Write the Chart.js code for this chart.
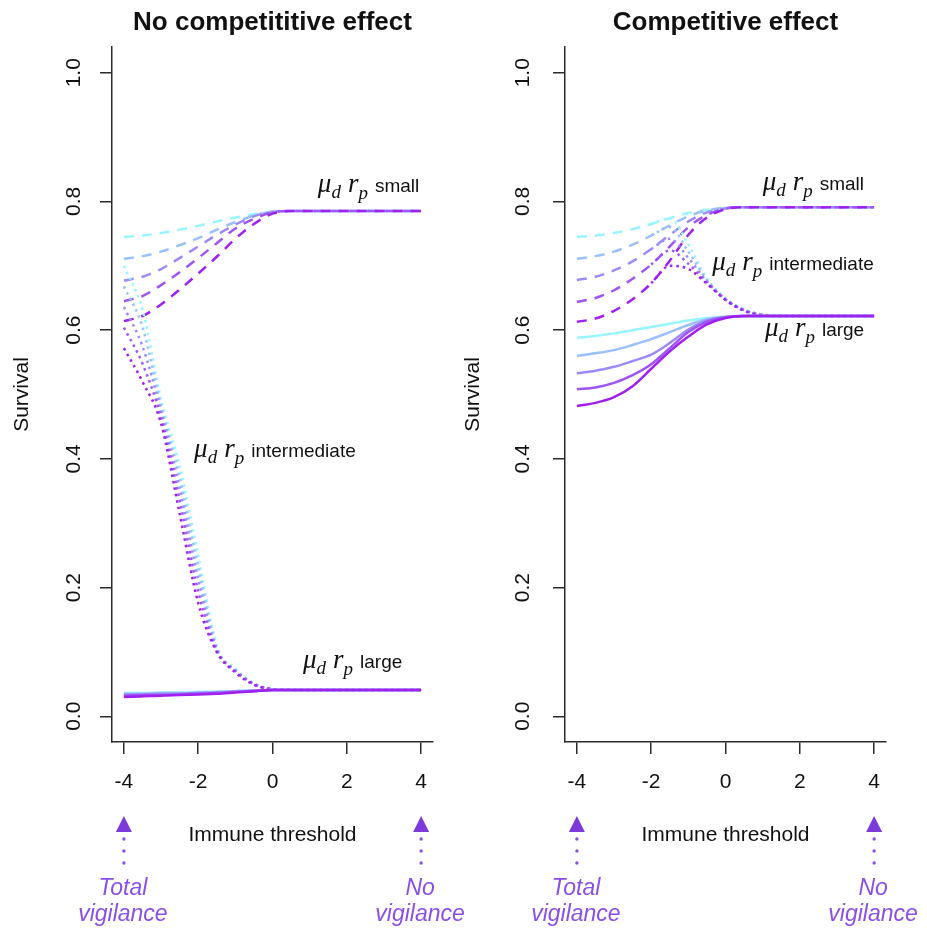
<!DOCTYPE html>
<html>
<head>
<meta charset="utf-8">
<script src="https://cdn.jsdelivr.net/npm/chart.js@4.4.0/dist/chart.umd.min.js"></script>
<style>
  body { margin: 0; background: #fff; }
  #wrap { position: relative; width: 927px; height: 930px; overflow: hidden; }
  canvas { position: absolute; top: 0; }
  #leftPanel { left: 0; }
  #rightPanel { left: 447px; }
</style>
</head>
<body>
<div id="wrap">
  <canvas id="leftPanel" width="480" height="930"></canvas>
  <canvas id="rightPanel" width="480" height="930"></canvas>
</div>
<script>
// immune threshold grid
const thresholds = [-4, -3.5, -3, -2.5, -2, -1.5, -1, -0.5, 0, 0.5, 1, 1.5, 2, 2.5, 3, 3.5, 4];
const xTicks = [-4, -2, 0, 2, 4];
const yTicks = [0, 0.2, 0.4, 0.6, 0.8, 1.0];
// cyan -> purple
const shades = ['#98F5FF', '#9AC0FB', '#9C8AF7', '#9E55F4', '#A020F0'];

// no competitive effect
const noCompSmall = [
  [0.745, 0.747, 0.751, 0.756, 0.762, 0.769, 0.775, 0.780, 0.784, 0.785, 0.785, 0.785, 0.785, 0.785, 0.785, 0.785, 0.785],
  [0.711, 0.715, 0.722, 0.732, 0.743, 0.756, 0.768, 0.778, 0.784, 0.785, 0.785, 0.785, 0.785, 0.785, 0.785, 0.785, 0.785],
  [0.677, 0.683, 0.695, 0.712, 0.730, 0.748, 0.764, 0.777, 0.784, 0.785, 0.785, 0.785, 0.785, 0.785, 0.785, 0.785, 0.785],
  [0.645, 0.653, 0.670, 0.690, 0.712, 0.735, 0.758, 0.773, 0.783, 0.785, 0.785, 0.785, 0.785, 0.785, 0.785, 0.785, 0.785],
  [0.614, 0.622, 0.640, 0.663, 0.688, 0.714, 0.742, 0.765, 0.781, 0.785, 0.785, 0.785, 0.785, 0.785, 0.785, 0.785, 0.785]
];
const noCompMid = [
  [0.700, 0.632, 0.492, 0.389, 0.250, 0.110, 0.074, 0.051, 0.042, 0.041, 0.041, 0.041, 0.041, 0.041, 0.041, 0.041, 0.041],
  [0.668, 0.605, 0.482, 0.372, 0.232, 0.106, 0.072, 0.051, 0.042, 0.041, 0.041, 0.041, 0.041, 0.041, 0.041, 0.041, 0.041],
  [0.636, 0.575, 0.474, 0.355, 0.213, 0.104, 0.071, 0.050, 0.042, 0.041, 0.041, 0.041, 0.041, 0.041, 0.041, 0.041, 0.041],
  [0.604, 0.548, 0.464, 0.336, 0.194, 0.102, 0.070, 0.050, 0.042, 0.041, 0.041, 0.041, 0.041, 0.041, 0.041, 0.041, 0.041],
  [0.572, 0.520, 0.455, 0.315, 0.176, 0.100, 0.068, 0.049, 0.042, 0.041, 0.041, 0.041, 0.041, 0.041, 0.041, 0.041, 0.041]
];
const noCompLarge = [
  [0.036, 0.036, 0.037, 0.037, 0.038, 0.038, 0.039, 0.040, 0.041, 0.041, 0.041, 0.041, 0.041, 0.041, 0.041, 0.041, 0.041],
  [0.035, 0.035, 0.036, 0.036, 0.037, 0.038, 0.039, 0.040, 0.041, 0.041, 0.041, 0.041, 0.041, 0.041, 0.041, 0.041, 0.041],
  [0.034, 0.034, 0.035, 0.035, 0.036, 0.037, 0.038, 0.040, 0.041, 0.041, 0.041, 0.041, 0.041, 0.041, 0.041, 0.041, 0.041],
  [0.032, 0.033, 0.033, 0.034, 0.035, 0.036, 0.038, 0.039, 0.041, 0.041, 0.041, 0.041, 0.041, 0.041, 0.041, 0.041, 0.041],
  [0.030, 0.031, 0.032, 0.033, 0.034, 0.035, 0.037, 0.039, 0.041, 0.041, 0.041, 0.041, 0.041, 0.041, 0.041, 0.041, 0.041]
];

// competitive effect (intermediate curves only visible once they leave the small ones)
const compSmall = [
  [0.745, 0.747, 0.751, 0.757, 0.765, 0.774, 0.782, 0.787, 0.790, 0.791, 0.791, 0.791, 0.791, 0.791, 0.791, 0.791, 0.791],
  [0.711, 0.715, 0.722, 0.733, 0.747, 0.763, 0.777, 0.786, 0.790, 0.791, 0.791, 0.791, 0.791, 0.791, 0.791, 0.791, 0.791],
  [0.678, 0.683, 0.693, 0.707, 0.726, 0.748, 0.769, 0.783, 0.789, 0.791, 0.791, 0.791, 0.791, 0.791, 0.791, 0.791, 0.791],
  [0.644, 0.650, 0.662, 0.680, 0.702, 0.730, 0.760, 0.779, 0.789, 0.791, 0.791, 0.791, 0.791, 0.791, 0.791, 0.791, 0.791],
  [0.613, 0.618, 0.630, 0.648, 0.673, 0.708, 0.748, 0.775, 0.788, 0.791, 0.791, 0.791, 0.791, 0.791, 0.791, 0.791, 0.791]
];
const compMid = [
  [null, null, null, null, 0.765, 0.774, 0.733, 0.680, 0.650, 0.632, 0.624, 0.622, 0.622, 0.622, 0.622, 0.622, 0.622],
  [null, null, null, null, 0.747, 0.760, 0.722, 0.678, 0.649, 0.632, 0.624, 0.622, 0.622, 0.622, 0.622, 0.622, 0.622],
  [null, null, null, null, 0.726, 0.742, 0.712, 0.676, 0.648, 0.631, 0.624, 0.622, 0.622, 0.622, 0.622, 0.622, 0.622],
  [null, null, null, null, 0.702, 0.724, 0.703, 0.674, 0.647, 0.631, 0.623, 0.622, 0.622, 0.622, 0.622, 0.622, 0.622],
  [null, null, null, null, 0.673, 0.700, 0.695, 0.672, 0.647, 0.630, 0.623, 0.622, 0.622, 0.622, 0.622, 0.622, 0.622]
];
const compLarge = [
  [0.588, 0.591, 0.595, 0.600, 0.605, 0.610, 0.615, 0.619, 0.621, 0.622, 0.622, 0.622, 0.622, 0.622, 0.622, 0.622, 0.622],
  [0.560, 0.564, 0.569, 0.577, 0.586, 0.597, 0.608, 0.617, 0.621, 0.622, 0.622, 0.622, 0.622, 0.622, 0.622, 0.622, 0.622],
  [0.533, 0.537, 0.543, 0.552, 0.562, 0.580, 0.601, 0.615, 0.620, 0.622, 0.622, 0.622, 0.622, 0.622, 0.622, 0.622, 0.622],
  [0.508, 0.511, 0.518, 0.530, 0.547, 0.572, 0.597, 0.613, 0.620, 0.622, 0.622, 0.622, 0.622, 0.622, 0.622, 0.622, 0.622],
  [0.482, 0.487, 0.496, 0.513, 0.540, 0.567, 0.590, 0.609, 0.619, 0.622, 0.622, 0.622, 0.622, 0.622, 0.622, 0.622, 0.622]
];

const SANS = '"Liberation Sans", Arial, sans-serif';
const SERIF = '"Liberation Serif", "Times New Roman", serif';
const axisColor = '#2b2b2b';
const noteColor = '#8a4fe6';

function buildDatasets(groups) {
  const sets = [];
  groups.forEach((g, gi) => {
    g.rows.forEach((row, i) => {
      sets.push({
        data: row.map((v, k) => ({ x: thresholds[k], y: v })),
        borderColor: shades[i],
        borderDash: g.dash,
        borderWidth: 2.5,
        pointRadius: 0,
        fill: false,
        cubicInterpolationMode: 'monotone',
        order: (groups.length - 1 - gi) * 5 + (4 - i)
      });
    });
  });
  return sets;
}

function drawMu(ctx, px, py, word) {
  ctx.textAlign = 'left';
  ctx.textBaseline = 'alphabetic';
  let cx = px;
  ctx.font = 'italic 27px ' + SERIF;
  ctx.fillText('\u03bc', cx, py);
  cx += ctx.measureText('\u03bc').width;
  ctx.font = 'italic 19px ' + SERIF;
  ctx.fillText('d', cx, py + 6);
  cx += ctx.measureText('d').width + 7;
  ctx.font = 'italic 27px ' + SERIF;
  ctx.fillText('r', cx, py);
  cx += ctx.measureText('r').width;
  ctx.font = 'italic 19px ' + SERIF;
  ctx.fillText('p', cx, py + 7);
  cx += ctx.measureText('p').width + 7;
  ctx.font = '19px ' + SANS;
  ctx.fillText(word, cx, py);
}

const panelText = {
  id: 'panelText',
  afterDraw(chart, args, o) {
    const { ctx, chartArea, scales } = chart;
    const x = scales.x, y = scales.y;
    const cx = (chartArea.left + chartArea.right) / 2;
    ctx.save();
    ctx.fillStyle = '#111';

    // title
    ctx.font = 'bold 26px ' + SANS;
    ctx.textAlign = 'center';
    ctx.textBaseline = 'alphabetic';
    ctx.fillText(o.title, cx, 30);

    // rotated y tick labels
    ctx.font = '21px ' + SANS;
    ctx.textBaseline = 'middle';
    yTicks.forEach(v => {
      ctx.save();
      ctx.translate(chartArea.left + o.yLabelOffset, y.getPixelForValue(v));
      ctx.rotate(-Math.PI / 2);
      ctx.fillText(v.toFixed(1), 0, 0);
      ctx.restore();
    });

    // axis titles
    ctx.save();
    ctx.translate(chartArea.left + o.yTitleOffset, (chartArea.top + chartArea.bottom) / 2);
    ctx.rotate(-Math.PI / 2);
    ctx.fillText('Survival', 0, 0);
    ctx.restore();
    ctx.textBaseline = 'alphabetic';
    ctx.fillText('Immune threshold', cx, 841);

    // vigilance arrows
    o.arrows.forEach(a => {
      const px = x.getPixelForValue(a.at);
      ctx.fillStyle = '#7b3ad9';
      ctx.beginPath();
      ctx.moveTo(px, 816);
      ctx.lineTo(px - 8, 832);
      ctx.lineTo(px + 8, 832);
      ctx.closePath();
      ctx.fill();
      ctx.fillStyle = noteColor;
      [839, 851, 863].forEach(dy => {
        ctx.beginPath();
        ctx.arc(px, dy, 1.7, 0, Math.PI * 2);
        ctx.fill();
      });
      ctx.font = 'italic 23px ' + SANS;
      ctx.textAlign = 'center';
      ctx.fillText(a.lines[0], px - 1, 895);
      ctx.fillText(a.lines[1], px - 1, 921);
    });

    // curve group labels
    ctx.fillStyle = '#111';
    o.labels.forEach(l => {
      drawMu(ctx, x.getPixelForValue(l.x), y.getPixelForValue(l.y), l.word);
    });
    ctx.restore();
  }
};

function makePanel(id, groups, text, yWidth, rightPad) {
  return new Chart(document.getElementById(id), {
    type: 'line',
    data: { datasets: buildDatasets(groups) },
    options: {
      responsive: false,
      animation: false,
      layout: { padding: { top: 47, left: 0, right: rightPad, bottom: 0 } },
      plugins: { legend: { display: false }, tooltip: { enabled: false }, panelText: text },
      scales: {
        x: {
          type: 'linear', min: -4.32, max: 4.32,
          afterBuildTicks: s => { s.ticks = xTicks.map(v => ({ value: v })); },
          afterFit: s => { s.height = 188; },
          grid: { drawOnChartArea: false, drawTicks: true, tickLength: 12, color: axisColor, lineWidth: 1.5 },
          border: { display: true, color: axisColor, width: 1.5 },
          ticks: { color: '#111', font: { family: SANS, size: 21 }, padding: 16, callback: v => String(v) }
        },
        y: {
          type: 'linear', min: -0.04, max: 1.04,
          afterBuildTicks: s => { s.ticks = yTicks.map(v => ({ value: v })); },
          afterFit: s => { s.width = yWidth; },
          grid: { drawOnChartArea: false, drawTicks: true, tickLength: 12, color: axisColor, lineWidth: 1.5 },
          border: { display: true, color: axisColor, width: 1.5 },
          ticks: { display: false }
        }
      }
    },
    plugins: [panelText]
  });
}

makePanel('leftPanel', [
  { rows: noCompSmall, dash: [10, 8] },
  { rows: noCompMid, dash: [2.5, 4] },
  { rows: noCompLarge, dash: [] }
], {
  title: 'No competititive effect',
  yLabelOffset: -38, yTitleOffset: -90,
  arrows: [{ at: -4, lines: ['Total', 'vigilance'] }, { at: 4, lines: ['No', 'vigilance'] }],
  labels: [
    { x: 1.22, y: 0.815, word: 'small' },
    { x: -2.11, y: 0.403, word: 'intermediate' },
    { x: 0.82, y: 0.075, word: 'large' }
  ]
}, 112, 47);

makePanel('rightPanel', [
  { rows: compSmall, dash: [10, 8] },
  { rows: compMid, dash: [2.5, 4] },
  { rows: compLarge, dash: [] }
], {
  title: 'Competitive effect',
  yLabelOffset: -42, yTitleOffset: -92,
  arrows: [{ at: -4, lines: ['Total', 'vigilance'] }, { at: 4, lines: ['No', 'vigilance'] }],
  labels: [
    { x: 1.0, y: 0.818, word: 'small' },
    { x: -0.36, y: 0.694, word: 'intermediate' },
    { x: 1.06, y: 0.591, word: 'large' }
  ]
}, 118, 41);
</script>
</body>
</html>
